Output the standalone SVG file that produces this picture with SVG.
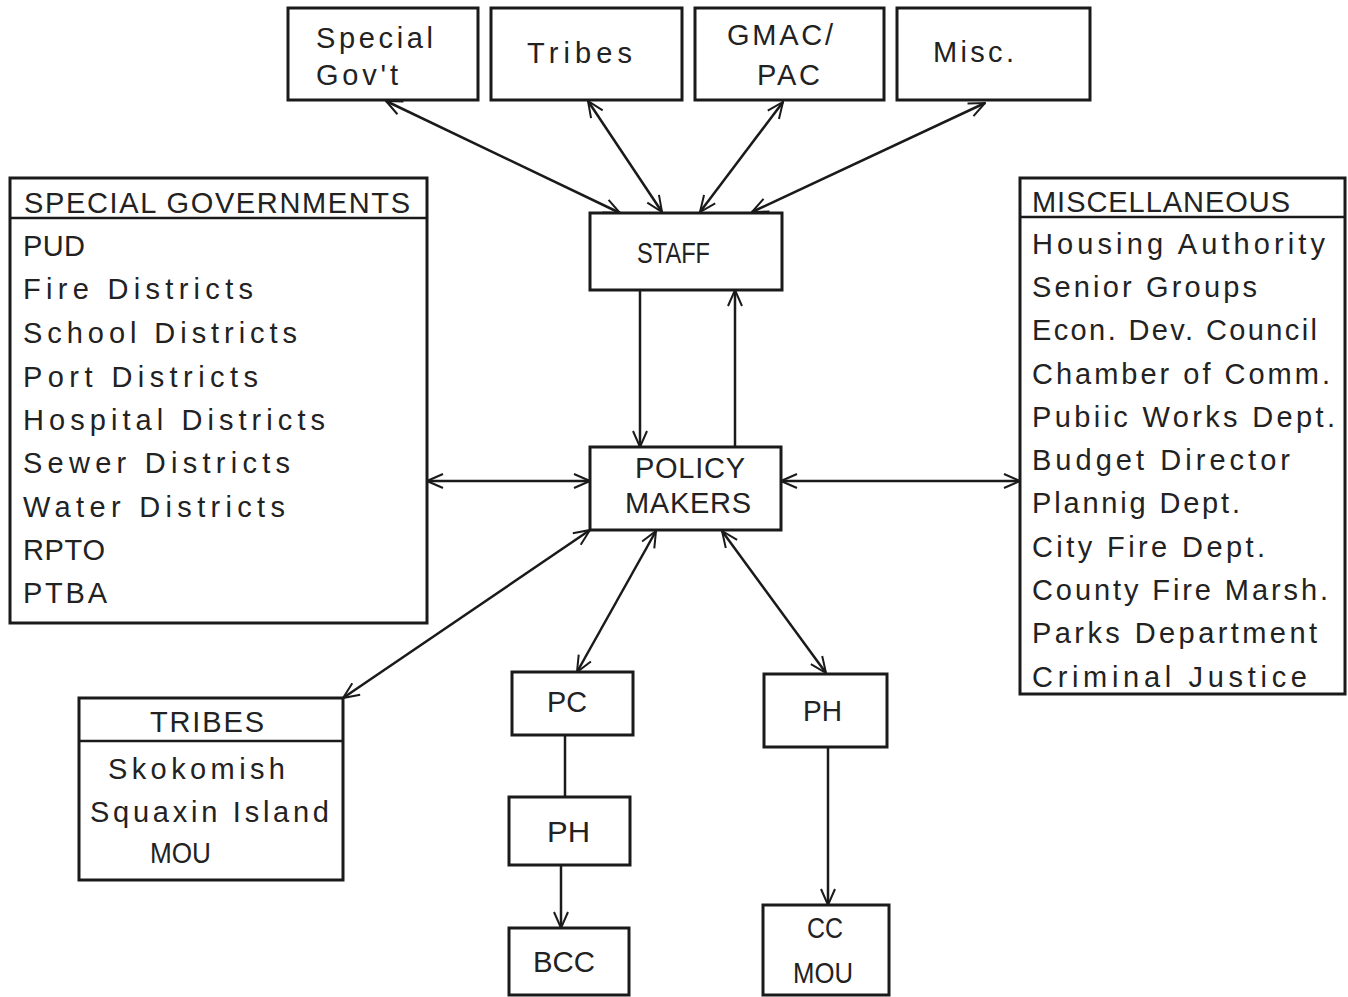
<svg xmlns="http://www.w3.org/2000/svg" width="1348" height="997" viewBox="0 0 1348 997">
<style>
.box{fill:#fff;stroke:#1a1a1a;stroke-width:3}
.div{stroke:#1a1a1a;stroke-width:2.5}
.t{font-family:"Liberation Sans",Arial,sans-serif;font-size:29px;fill:#222;font-weight:normal}
.c{fill:none;stroke:#1a1a1a;stroke-width:2.5}
</style>
<defs>
<marker id="ar" viewBox="0 0 20 20" refX="19" refY="10" markerWidth="20" markerHeight="20" markerUnits="userSpaceOnUse" orient="auto-start-reverse">
<path d="M3,3 L19,10 L3,17" fill="none" stroke="#1a1a1a" stroke-width="2"/>
</marker>
</defs>
<rect width="1348" height="997" fill="#fff"/>

<g id="connectors">
<line class="c" x1="386" y1="101" x2="620" y2="213" marker-start="url(#ar)" marker-end="url(#ar)"/>
<line class="c" x1="588" y1="101" x2="662" y2="212" marker-start="url(#ar)" marker-end="url(#ar)"/>
<line class="c" x1="783" y1="102" x2="700" y2="212" marker-start="url(#ar)" marker-end="url(#ar)"/>
<line class="c" x1="985" y1="103" x2="752" y2="212" marker-start="url(#ar)" marker-end="url(#ar)"/>
<line class="c" x1="640" y1="290" x2="640" y2="447" marker-end="url(#ar)"/>
<line class="c" x1="735" y1="447" x2="735" y2="290" marker-end="url(#ar)"/>
<line class="c" x1="427" y1="481" x2="590" y2="481" marker-start="url(#ar)" marker-end="url(#ar)"/>
<line class="c" x1="781" y1="481" x2="1020" y2="481" marker-start="url(#ar)" marker-end="url(#ar)"/>
<line class="c" x1="590" y1="530" x2="343" y2="698" marker-start="url(#ar)" marker-end="url(#ar)"/>
<line class="c" x1="656" y1="531" x2="577" y2="672" marker-start="url(#ar)" marker-end="url(#ar)"/>
<line class="c" x1="722" y1="531" x2="826" y2="673" marker-start="url(#ar)" marker-end="url(#ar)"/>
<line class="c" x1="565" y1="735" x2="565" y2="797"/>
<line class="c" x1="561" y1="865" x2="561" y2="928" marker-end="url(#ar)"/>
<line class="c" x1="828" y1="747" x2="828" y2="905" marker-end="url(#ar)"/>
</g>

<g id="top-special-govt">
<rect class="box" x="288" y="8" width="190" height="92"/>
<text class="t" x="316" y="48" textLength="117" lengthAdjust="spacing">Special</text>
<text class="t" x="316" y="85" textLength="82" lengthAdjust="spacing">Gov't</text>
</g>
<g id="top-tribes">
<rect class="box" x="491" y="8" width="191" height="92"/>
<text class="t" x="527" y="63" textLength="105" lengthAdjust="spacing">Tribes</text>
</g>
<g id="top-gmac">
<rect class="box" x="695" y="8" width="189" height="92"/>
<text class="t" x="727" y="45" textLength="106" lengthAdjust="spacing">GMAC/</text>
<text class="t" x="757" y="85" textLength="63" lengthAdjust="spacing">PAC</text>
</g>
<g id="top-misc">
<rect class="box" x="897" y="8" width="193" height="92"/>
<text class="t" x="933" y="62" textLength="81" lengthAdjust="spacing">Misc.</text>
</g>

<g id="staff">
<rect class="box" x="590" y="213" width="192" height="77"/>
<text class="t" x="637" y="263" textLength="73" lengthAdjust="spacingAndGlyphs">STAFF</text>
</g>

<g id="policy-makers">
<rect class="box" x="590" y="447" width="191" height="83"/>
<text class="t" x="635" y="478" textLength="110" lengthAdjust="spacing">POLICY</text>
<text class="t" x="625" y="513" textLength="126" lengthAdjust="spacing">MAKERS</text>
</g>

<g id="special-governments">
<rect class="box" x="10" y="178" width="417" height="445"/>
<line class="div" x1="10" y1="218" x2="427" y2="218"/>
<text class="t" x="24" y="213" textLength="386" lengthAdjust="spacing">SPECIAL GOVERNMENTS</text>
<text class="t" x="23" y="256" textLength="62" lengthAdjust="spacing">PUD</text>
<text class="t" x="23" y="299" textLength="230" lengthAdjust="spacing">Fire Districts</text>
<text class="t" x="23" y="343" textLength="274" lengthAdjust="spacing">School Districts</text>
<text class="t" x="23" y="387" textLength="235" lengthAdjust="spacing">Port Districts</text>
<text class="t" x="23" y="430" textLength="302" lengthAdjust="spacing">Hospital Districts</text>
<text class="t" x="23" y="473" textLength="267" lengthAdjust="spacing">Sewer Districts</text>
<text class="t" x="23" y="517" textLength="262" lengthAdjust="spacing">Water Districts</text>
<text class="t" x="23" y="560" textLength="82" lengthAdjust="spacing">RPTO</text>
<text class="t" x="23" y="603" textLength="84" lengthAdjust="spacing">PTBA</text>
</g>

<g id="miscellaneous">
<rect class="box" x="1020" y="178" width="325" height="516"/>
<line class="div" x1="1020" y1="217" x2="1345" y2="217"/>
<text class="t" x="1032" y="212" textLength="258" lengthAdjust="spacing">MISCELLANEOUS</text>
<text class="t" x="1032" y="254" textLength="293" lengthAdjust="spacing">Housing Authority</text>
<text class="t" x="1032" y="297" textLength="225" lengthAdjust="spacing">Senior Groups</text>
<text class="t" x="1032" y="340" textLength="285" lengthAdjust="spacing">Econ. Dev. Council</text>
<text class="t" x="1032" y="384" textLength="298" lengthAdjust="spacing">Chamber of Comm.</text>
<text class="t" x="1032" y="427" textLength="303" lengthAdjust="spacing">Pubiic Works Dept.</text>
<text class="t" x="1032" y="470" textLength="258" lengthAdjust="spacing">Budget Director</text>
<text class="t" x="1032" y="513" textLength="208" lengthAdjust="spacing">Plannig Dept.</text>
<text class="t" x="1032" y="557" textLength="233" lengthAdjust="spacing">City Fire Dept.</text>
<text class="t" x="1032" y="600" textLength="296" lengthAdjust="spacing">County Fire Marsh.</text>
<text class="t" x="1032" y="643" textLength="285" lengthAdjust="spacing">Parks Department</text>
<text class="t" x="1032" y="687" textLength="275" lengthAdjust="spacing">Criminal Justice</text>
</g>

<g id="tribes">
<rect class="box" x="79" y="698" width="264" height="182"/>
<line class="div" x1="79" y1="741" x2="343" y2="741"/>
<text class="t" x="150" y="732" textLength="114" lengthAdjust="spacing">TRIBES</text>
<text class="t" x="108" y="779" textLength="177" lengthAdjust="spacing">Skokomish</text>
<text class="t" x="90" y="822" textLength="239" lengthAdjust="spacing">Squaxin Island</text>
<text class="t" x="150" y="863" textLength="61" lengthAdjust="spacingAndGlyphs">MOU</text>
</g>

<g id="pc">
<rect class="box" x="512" y="672" width="121" height="63"/>
<text class="t" x="547" y="712" textLength="40" lengthAdjust="spacingAndGlyphs">PC</text>
</g>
<g id="ph-left">
<rect class="box" x="509" y="797" width="121" height="68"/>
<text class="t" x="547" y="842" textLength="43" lengthAdjust="spacingAndGlyphs">PH</text>
</g>
<g id="bcc">
<rect class="box" x="509" y="928" width="120" height="67"/>
<text class="t" x="533" y="972" textLength="62" lengthAdjust="spacingAndGlyphs">BCC</text>
</g>
<g id="ph-right">
<rect class="box" x="764" y="674" width="123" height="73"/>
<text class="t" x="803" y="721" textLength="39" lengthAdjust="spacingAndGlyphs">PH</text>
</g>
<g id="cc-mou">
<rect class="box" x="763" y="905" width="126" height="90"/>
<text class="t" x="807" y="938" textLength="36" lengthAdjust="spacingAndGlyphs">CC</text>
<text class="t" x="793" y="983" textLength="60" lengthAdjust="spacingAndGlyphs">MOU</text>
</g>
</svg>
